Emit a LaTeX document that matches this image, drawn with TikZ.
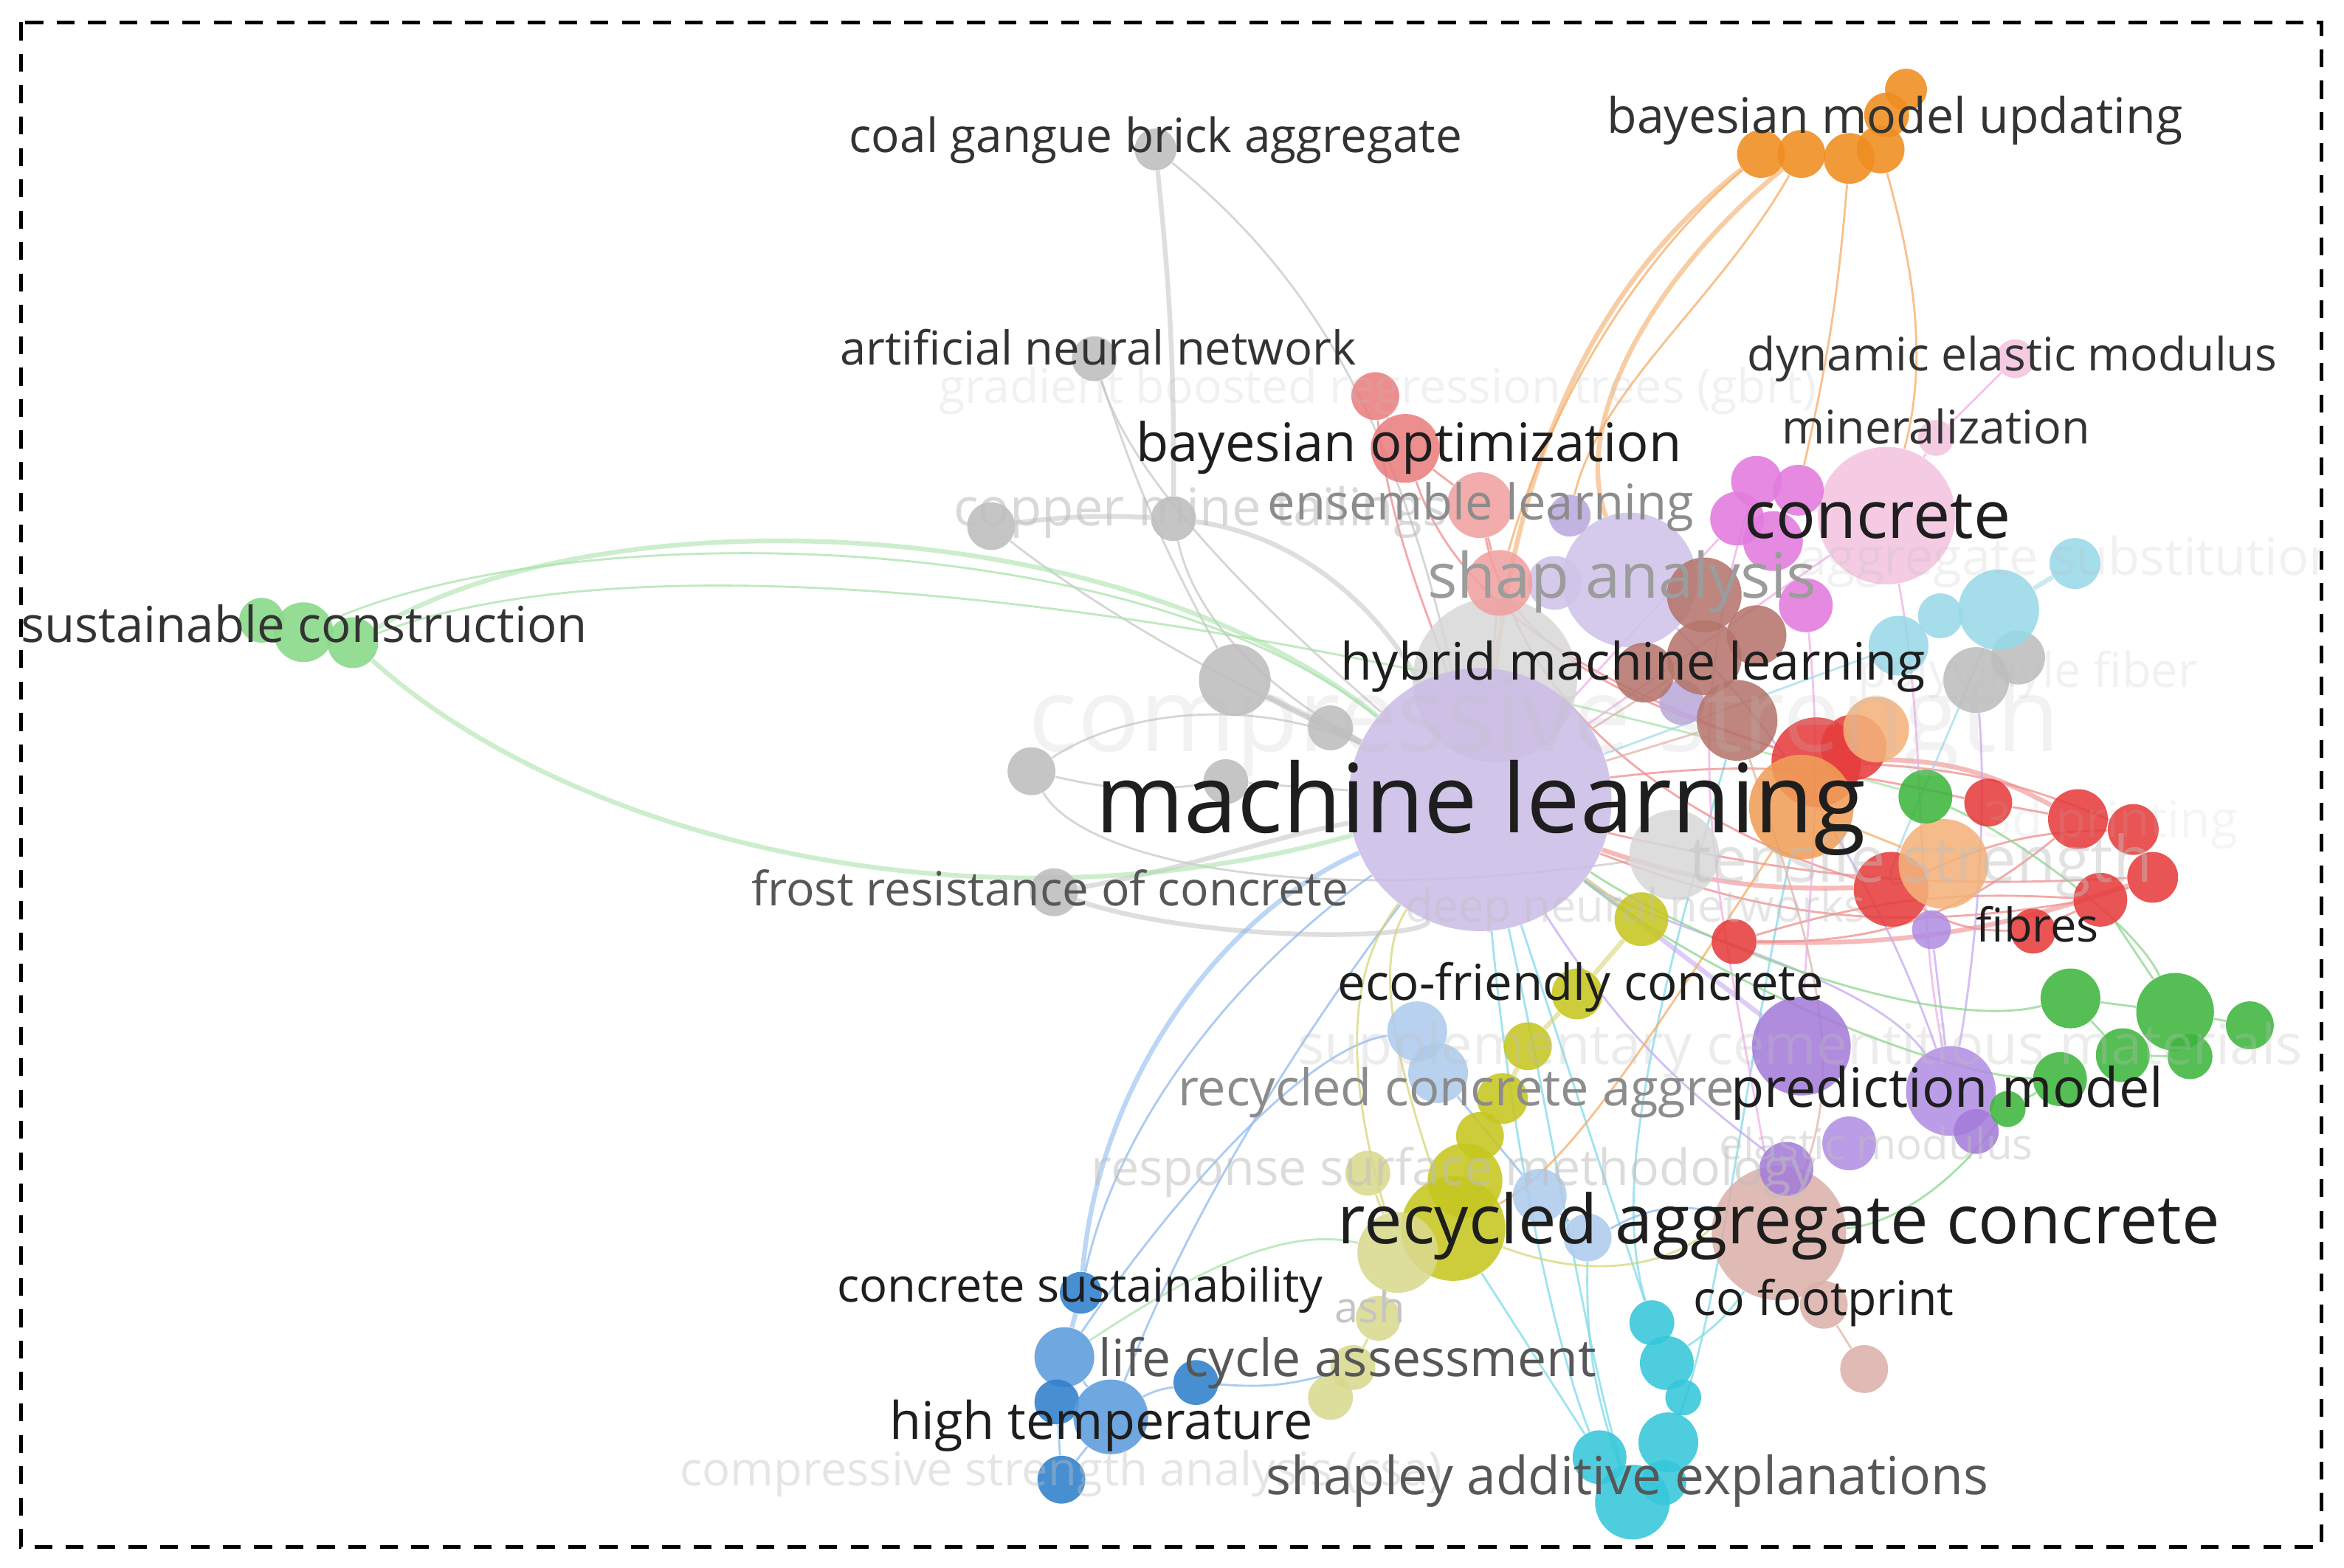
\documentclass[tikz,border=0pt]{standalone}
\usepackage{fontspec}
\setmainfont{Open Sans}
\usepackage{graphicx}
\pgfdeclarelayer{edgelayer}
\pgfdeclarelayer{labellayer}
\pgfsetlayers{edgelayer,main,labellayer}
\definecolor{cML}{HTML}{CBBDE6}
\definecolor{cShap}{HTML}{CFC3E8}
\definecolor{cLav}{HTML}{BBA8DE}
\definecolor{cPur}{HTML}{A47CD8}
\definecolor{cPur2}{HTML}{B28EE2}
\definecolor{cSal}{HTML}{EA7E7E}
\definecolor{cSal2}{HTML}{F0A0A0}
\definecolor{cOra}{HTML}{EF8C1E}
\definecolor{cMag}{HTML}{E27ADD}
\definecolor{cPink}{HTML}{F2C4DF}
\definecolor{cBrown}{HTML}{B5756C}
\definecolor{cLCy}{HTML}{98D8E8}
\definecolor{cRed}{HTML}{E63C3C}
\definecolor{cPeach}{HTML}{F4B27A}
\definecolor{cOr2}{HTML}{F09E58}
\definecolor{cGrn}{HTML}{3DB53D}
\definecolor{cLGrn}{HTML}{86D886}
\definecolor{cOli}{HTML}{C6C620}
\definecolor{cLOli}{HTML}{D8D88E}
\definecolor{cLBlu}{HTML}{AECBEC}
\definecolor{cBlu}{HTML}{2F80CC}
\definecolor{cBlu2}{HTML}{5B9BDC}
\definecolor{cCya}{HTML}{35C6DA}
\definecolor{cRosy}{HTML}{DCB0AA}
\definecolor{cGry}{HTML}{BDBDBD}
\definecolor{cLGry}{HTML}{D8D8D8}
\definecolor{eG}{HTML}{C8C8C8}
\definecolor{eO}{HTML}{F5AC66}
\definecolor{eLG}{HTML}{ABE2AB}
\definecolor{eB}{HTML}{90BAEE}
\definecolor{eC}{HTML}{80DAEA}
\definecolor{eR}{HTML}{F08C8C}
\definecolor{eP}{HTML}{EDB0E6}
\definecolor{eV}{HTML}{C6AAF0}
\definecolor{eGn}{HTML}{8CD68C}
\definecolor{eY}{HTML}{D6D678}
\definecolor{eRo}{HTML}{E0B4AC}
\definecolor{eLC}{HTML}{A4DCEA}
\definecolor{tOne}{HTML}{1E1E1E}
\definecolor{tTwo}{HTML}{333333}
\definecolor{tG}{HTML}{575757}
\definecolor{tM}{HTML}{8C8C8C}
\definecolor{tMb}{HTML}{9C9C9C}
\definecolor{tL}{HTML}{C4C4C4}
\tikzset{
  ball/.style={circle,inner sep=0pt,minimum size=#1*0.4mm,fill opacity=0.88,draw=none},
  lbl/.style={anchor=base west,inner sep=0pt,outer sep=0pt},
  faint/.style={text=black!25,text opacity=#1},
  con/.style={line width=0.8pt,draw opacity=0.75},
  conw/.style={line width=1.8pt,draw opacity=0.6},
  frame/.style={line width=1.4pt,dash pattern=on 2.4mm off 1.8mm}
}
\begin{document}
\begin{tikzpicture}[x=0.2mm,y=-0.2mm]
\useasboundingbox (0,0) rectangle (1568,1049);
% ---------------- nodes (circles) ----------------
\node[ball=55,fill=cLGry] (g10) at (1000,455) {};
\node[ball=88,fill=cML] (ml) at (990,535) {};
\node[ball=46,fill=cPink] (conc) at (1262,345) {};
\node[ball=45,fill=cRosy] (rac) at (1190,825) {};
\node[ball=45,fill=cShap] (shap) at (1090,388) {};
\node[ball=30,fill=cLGry] (gr3) at (1120,572) {};
% gray
\node[ball=14,fill=cGry] (g1) at (773,100) {};
\node[ball=15,fill=cGry] (g2) at (732,240) {};
\node[ball=16,fill=cGry] (g3) at (663,352) {};
\node[ball=15,fill=cGry] (g4) at (785,347) {};
\node[ball=24,fill=cGry] (g5) at (826,455) {};
\node[ball=15,fill=cGry] (g6) at (890,487) {};
\node[ball=16,fill=cGry] (g7) at (690,516) {};
\node[ball=15,fill=cGry] (g8) at (820,523) {};
\node[ball=16,fill=cGry] (g9) at (705,597) {};
\node[ball=22,fill=cGry] (gr1) at (1322,455) {};
\node[ball=18,fill=cGry] (gr2) at (1350,440) {};
% lavender / purple
\node[ball=14,fill=cLav] (p1) at (1050,345) {};
\node[ball=18,fill=cShap] (p2) at (1040,390) {};
\node[ball=15,fill=cLav] (p3) at (1125,470) {};
\node[ball=33,fill=cPur] (pm1) at (1205,700) {};
\node[ball=30,fill=cPur2] (pm2) at (1305,730) {};
\node[ball=15,fill=cPur] (pm3) at (1322,757) {};
\node[ball=18,fill=cPur2] (pm4) at (1237,765) {};
\node[ball=18,fill=cPur] (pm5) at (1195,782) {};
\node[ball=13,fill=cPur2] (pm6) at (1292,622) {};
% salmon
\node[ball=16,fill=cSal] (s1) at (920,265) {};
\node[ball=23,fill=cSal] (s2) at (940,300) {};
\node[ball=22,fill=cSal2] (s3) at (990,338) {};
\node[ball=22,fill=cSal2] (s4) at (1003,390) {};
% orange
\node[ball=16,fill=cOra] (o1) at (1178,103) {};
\node[ball=16,fill=cOra] (o2) at (1205,103) {};
\node[ball=17,fill=cOra] (o3) at (1237,106) {};
\node[ball=16,fill=cOra] (o4) at (1258,100) {};
\node[ball=15,fill=cOra] (o5) at (1262,77) {};
\node[ball=14,fill=cOra] (o6) at (1275,60) {};
% magenta / pink
\node[ball=17,fill=cMag] (m1) at (1175,322) {};
\node[ball=17,fill=cMag] (m2) at (1203,328) {};
\node[ball=18,fill=cMag] (m3) at (1162,347) {};
\node[ball=20,fill=cMag] (m4) at (1186,362) {};
\node[ball=18,fill=cMag] (m5) at (1208,405) {};
\node[ball=12,fill=cPink] (min) at (1295,293) {};
\node[ball=13,fill=cPink] (dem) at (1348,240) {};
% brown
\node[ball=25,fill=cBrown] (b1) at (1140,398) {};
\node[ball=20,fill=cBrown] (b2) at (1175,425) {};
\node[ball=20,fill=cBrown] (b3) at (1100,450) {};
\node[ball=25,fill=cBrown] (b4) at (1140,440) {};
\node[ball=27,fill=cBrown] (b5) at (1162,482) {};
% light cyan
\node[ball=17,fill=cLCy] (lc1) at (1388,377) {};
\node[ball=27,fill=cLCy] (lc2) at (1337,408) {};
\node[ball=15,fill=cLCy] (lc3) at (1298,412) {};
\node[ball=20,fill=cLCy] (lc4) at (1270,432) {};
% red
\node[ball=22,fill=cRed] (r10) at (1240,500) {};
\node[ball=30,fill=cRed] (r1) at (1215,510) {};
\node[ball=16,fill=cRed] (r2) at (1330,537) {};
\node[ball=20,fill=cRed] (r3) at (1390,548) {};
\node[ball=17,fill=cRed] (r4) at (1427,555) {};
\node[ball=17,fill=cRed] (r5) at (1440,587) {};
\node[ball=25,fill=cRed] (r6) at (1265,595) {};
\node[ball=18,fill=cRed] (r7) at (1405,602) {};
\node[ball=15,fill=cRed] (r8) at (1360,623) {};
\node[ball=15,fill=cRed] (r9) at (1160,630) {};
% peach / orange
\node[ball=22,fill=cPeach] (pc2) at (1255,488) {};
\node[ball=35,fill=cOr2] (pc1) at (1205,540) {};
\node[ball=30,fill=cPeach] (pc3) at (1300,578) {};
% green
\node[ball=18,fill=cGrn] (gn1) at (1288,533) {};
\node[ball=20,fill=cGrn] (gn2) at (1385,668) {};
\node[ball=26,fill=cGrn] (gn3) at (1455,677) {};
\node[ball=16,fill=cGrn] (gn4) at (1505,686) {};
\node[ball=18,fill=cGrn] (gn5) at (1420,706) {};
\node[ball=15,fill=cGrn] (gn6) at (1465,707) {};
\node[ball=18,fill=cGrn] (gn7) at (1378,722) {};
\node[ball=12,fill=cGrn] (gn8) at (1343,742) {};
% olive
\node[ball=35,fill=cOli] (ol7) at (972,822) {};
\node[ball=27,fill=cLOli] (ol8) at (935,838) {};
\node[ball=15,fill=cLOli] (ol12) at (915,785) {};
\node[ball=18,fill=cOli] (ol1) at (1098,615) {};
\node[ball=17,fill=cOli] (ol2) at (1055,665) {};
\node[ball=16,fill=cOli] (ol3) at (1022,700) {};
\node[ball=17,fill=cOli] (ol4) at (1005,735) {};
\node[ball=16,fill=cOli] (ol5) at (990,760) {};
\node[ball=25,fill=cOli] (ol6) at (980,790) {};
\node[ball=15,fill=cLOli] (ol9) at (922,882) {};
\node[ball=15,fill=cLOli] (ol10) at (905,915) {};
\node[ball=15,fill=cLOli] (ol11) at (890,935) {};
% light blue
\node[ball=20,fill=cLBlu] (lb1) at (948,690) {};
\node[ball=20,fill=cLBlu] (lb2) at (962,718) {};
\node[ball=18,fill=cLBlu] (lb3) at (1030,800) {};
\node[ball=16,fill=cLBlu] (lb4) at (1062,828) {};
% blue
\node[ball=14,fill=cBlu] (bl1) at (723,865) {};
\node[ball=20,fill=cBlu2] (bl2) at (712,908) {};
\node[ball=15,fill=cBlu] (bl3) at (707,938) {};
\node[ball=25,fill=cBlu2] (bl4) at (743,948) {};
\node[ball=15,fill=cBlu] (bl5) at (800,925) {};
\node[ball=16,fill=cBlu] (bl6) at (710,990) {};
% cyan
\node[ball=15,fill=cCya] (cy1) at (1105,885) {};
\node[ball=18,fill=cCya] (cy2) at (1115,912) {};
\node[ball=12,fill=cCya] (cy3) at (1126,935) {};
\node[ball=20,fill=cCya] (cy4) at (1116,965) {};
\node[ball=18,fill=cCya] (cy5) at (1070,975) {};
\node[ball=25,fill=cCya] (cy6) at (1092,1005) {};
\node[ball=15,fill=cCya] (cy7) at (1113,992) {};
% rosy
\node[ball=16,fill=cRosy] (rs2) at (1220,873) {};
\node[ball=16,fill=cRosy] (rs3) at (1247,916) {};
% light green
\node[ball=15,fill=cLGrn] (sc1) at (175,415) {};
\node[ball=20,fill=cLGrn] (sc2) at (203,423) {};
\node[ball=17,fill=cLGrn] (sc3) at (236,430) {};
% ---------------- edges ----------------
\begin{pgfonlayer}{edgelayer}
% orange
\draw[conw,eO] (o1) .. controls (1080,180) and (1020,280) .. (ml);
\draw[con,eO] (o1) .. controls (1100,170) and (1040,260) .. (s4);
\draw[conw,eO] (o2) .. controls (1110,180) and (1050,280) .. (shap);
\draw[con,eO] (o2) .. controls (1150,200) and (1070,260) .. (p1);
\draw[con,eO] (o3) to[bend left=4] (m2);
\draw[con,eO] (o4) .. controls (1280,180) and (1290,240) .. (conc);
% gray
\draw[conw,eG] (g1) to[bend left=3] (g4);
\draw[con,eG] (g1) .. controls (860,170) and (930,260) .. (ml);
\draw[con,eG] (g2) to[bend right=5] (g5);
\draw[con,eG] (g2) .. controls (760,330) and (860,420) .. (ml);
\draw[conw,eG] (g3) to[bend left=5] (g4);
\draw[conw,eG] (g4) .. controls (880,360) and (930,420) .. (ml);
\draw[con,eG] (g4) .. controls (800,420) and (860,470) .. (ml);
\draw[con,eG] (g3) .. controls (750,420) and (850,470) .. (ml);
\draw[con,eG] (g5) -- (g6);
\draw[con,eG] (g6) -- (ml);
\draw[conw,eG] (g5) -- (ml);
\draw[con,eG] (g7) .. controls (760,470) and (850,470) .. (ml);
\draw[con,eG] (g7) to[bend right=10] (g8);
\draw[con,eG] (g8) -- (ml);
\draw[conw,eG] (g9) .. controls (800,580) and (850,560) .. (ml);
\draw[conw,eG] (g9) .. controls (800,630) and (950,630) .. (ml);
\draw[con,eG] (g7) .. controls (720,570) and (850,610) .. (gr3);
\draw[con,eG] (gr1) -- (gr2);
% long light green
\draw[conw,eLG] (sc3) .. controls (400,330) and (750,340) .. (ml);
\draw[con,eLG] (sc2) .. controls (380,345) and (760,350) .. (ml);
\draw[con,eLG] (sc3) .. controls (420,360) and (780,390) .. (gn1);
\draw[conw,eLG] (sc3) .. controls (380,560) and (650,630) .. (ml);
% blue
\draw[conw,eB] (bl1) .. controls (735,720) and (820,610) .. (ml);
\draw[con,eB] (bl1) .. controls (750,740) and (840,640) .. (ml);
\draw[conw,eB] (bl1) -- (bl2);
\draw[con,eB] (bl4) .. controls (800,800) and (880,680) .. (ml);
\draw[con,eB] (bl2) .. controls (800,780) and (880,700) .. (lb1);
\draw[con,eB] (bl5) to[bend right=10] (ol10);
\draw[con,eB] (bl4) to[bend left=10] (bl5);
\draw[con,eB] (bl3) -- (bl6);
\draw[con,eB] (bl4) -- (bl6);
\draw[con,eB] (bl2) -- (bl4);
\draw[con,eLG] (bl2) .. controls (800,850) and (860,820) .. (ol8);
% cyan
\draw[con,eC] (cy6) .. controls (1060,900) and (1040,760) .. (ml);
\draw[con,eC] (cy5) .. controls (1040,900) and (1010,760) .. (ml);
\draw[con,eC] (cy1) -- (ml);
\draw[con,eC] (cy6) to[bend left=10] (lb4);
\draw[con,eC] (cy5) -- (ol7);
\draw[con,eC] (cy4) .. controls (1150,880) and (1170,700) .. (pc1);
\draw[con,eC] (cy2) to[bend right=10] (rac);
\draw[con,eC] (cy6) -- (cy7);
\draw[con,eC] (cy4) -- (cy7);
\draw[con,eC] (cy1) -- (cy2);
\draw[con,eC] (cy2) -- (cy3);
\draw[con,eC] (cy3) -- (cy4);
\draw[con,eC] (cy1) .. controls (1080,800) and (1100,700) .. (b5);
% red
\draw[conw,eR] (r1) to[bend left=15] (r3);
\draw[con,eR] (r1) to[bend left=10] (r4);
\draw[conw,eR] (r9) to[bend right=10] (r5);
\draw[con,eR] (r9) to[bend left=10] (r7);
\draw[con,eR] (r6) to[bend right=15] (r8);
\draw[con,eR] (ml) to[bend left=10] (r2);
\draw[conw,eR] (ml) to[bend right=10] (r6);
\draw[con,eR] (ml) to[bend right=15] (r7);
\draw[con,eR] (ml) to[bend right=8] (r5);
\draw[con,eR] (s2) .. controls (980,420) and (1100,470) .. (r1);
\draw[con,eR] (s3) .. controls (1010,450) and (1130,480) .. (r1);
\draw[con,eR] (s4) -- (ml);
\draw[con,eR] (s1) -- (s2) -- (s3) -- (s4);
\draw[con,eR] (r2) -- (r3) -- (r4) -- (r5) -- (r7) -- (r8);
\draw[con,eR] (r9) to[bend right=20] (r3);
\draw[con,eR] (r6) to[bend left=12] (r4);
\draw[con,eR] (s1) .. controls (930,360) and (960,420) .. (ml);
\draw[con,eR] (s4) .. controls (1050,500) and (1150,560) .. (r6);
% pink
\draw[con,eP] (dem) -- (min);
\draw[con,eP] (min) -- (conc);
\draw[con,eP] (conc) .. controls (1290,500) and (1280,600) .. (pm2);
\draw[con,eP] (m5) .. controls (1220,520) and (1210,600) .. (pm1);
\draw[con,eP] (conc) -- (ml);
\draw[con,eP] (m3) -- (ml);
\draw[con,eP] (m1) .. controls (1120,500) and (1150,600) .. (rac);
% purple
\draw[conw,eV] (pm1) -- (ml);
\draw[con,eV] (pm2) .. controls (1250,650) and (1100,620) .. (ml);
\draw[con,eV] (pm6) -- (pm2);
\draw[con,eV] (pm5) to[bend left=10] (ml);
\draw[con,eV] (gr1) .. controls (1330,550) and (1320,650) .. (pm2);
\draw[con,eV] (shap) .. controls (1200,500) and (1260,600) .. (pm2);
% green
\draw[con,eGn] (gn1) .. controls (1350,560) and (1430,620) .. (gn3);
\draw[con,eGn] (ml) .. controls (1150,640) and (1300,690) .. (gn2);
\draw[con,eGn] (ml) .. controls (1150,660) and (1300,720) .. (gn7);
\draw[con,eGn] (gn2) -- (gn3) -- (gn4);
\draw[con,eGn] (gn5) -- (gn6);
\draw[con,eGn] (gn7) -- (gn8);
\draw[con,eGn] (gn2) -- (gn5);
\draw[con,eGn] (gn8) .. controls (1300,800) and (1260,820) .. (rac);
\draw[con,eGn] (r7) -- (gn3);
% olive
\draw[conw,eY] (ol1) -- (ol2) -- (ol3) -- (ol4) -- (ol5) -- (ol6) -- (ol7);
\draw[con,eY] (ol7) .. controls (930,700) and (920,640) .. (ml);
\draw[con,eY] (ol8) .. controls (900,720) and (900,650) .. (ml);
\draw[con,eY] (ol1) -- (ml);
\draw[con,eY] (ol8) -- (ol9) -- (ol10) -- (ol11);
\draw[con,eY] (ol7) .. controls (1100,870) and (1150,820) .. (rac);
\draw[con,eY] (ol12) -- (ol8);
% rosy / brown
\draw[con,eRo] (rac) -- (rs2) -- (rs3);
\draw[con,eRo] (rac) .. controls (1240,700) and (1200,600) .. (b5);
\draw[con,eRo] (b5) -- (ml);
\draw[con,eRo] (b4) -- (ml);
% light cyan
\draw[conw,eLC] (lc1) -- (lc2);
\draw[con,eLC] (lc2) -- (lc3) -- (lc4);
\draw[con,eLC] (lc4) -- (ml);
\draw[con,eLC] (lc2) .. controls (1280,550) and (1250,600) .. (pc3);
% light blue
\draw[con,eB] (lb1) -- (lb2);
\draw[con,eB] (lb2) -- (lb3) -- (lb4);
\draw[con,eB] (lb4) to[bend left=20] (rac);
% peach
\draw[con,eO] (pc1) -- (pc3);
\draw[con,eO] (pc2) -- (pc1);
\draw[con,eO] (pc1) .. controls (1100,700) and (1050,780) .. (ol7);
\end{pgfonlayer}
% ---------------- labels ----------------
\begin{pgfonlayer}{labellayer}
\clip (14,15) rectangle (1553,1035);
% faint labels
\node[lbl,faint=0.22] (tgbrt) at (628,270) {\resizebox{117.4mm}{!}{gradient boosted regression trees (gbrt)}};
\node[lbl,faint=0.22] (tagg) at (1203,385) {\resizebox{72.6mm}{!}{aggregate substitution}};
\node[lbl,faint=0.22] (tpoly) at (1243,460) {\resizebox{45.4mm}{!}{polyvinyle fiber}};
\node[lbl,faint=0.2] (tcomp) at (688,503) {\resizebox{138mm}{!}{compressive strength}};
\node[lbl,faint=0.15] (tprint) at (1327,560) {\resizebox{34mm}{!}{3d printing}};
\node[lbl,faint=0.45] (ttens) at (1130,590) {\resizebox{62mm}{!}{tensile strength}};
\node[lbl,faint=0.4] (tdeep) at (940,617) {\resizebox{61.6mm}{!}{deep neural networks}};
\node[lbl,faint=0.3] (tsupp) at (868,712) {\resizebox{134.4mm}{!}{supplementary cementitious materials}};
\node[lbl,faint=0.45] (telas) at (1150,776) {\resizebox{42mm}{!}{elastic modulus}};
\node[lbl,faint=0.55] (tresp) at (730,793) {\resizebox{97mm}{!}{response surface methodology}};
\node[lbl,faint=0.4] (tcsa) at (455,994) {\resizebox{102mm}{!}{compressive strength analysis (csa)}};
\node[lbl,faint=0.6] (tcopper) at (638,352) {\resizebox{66mm}{!}{copper mine tailings}};
\node[lbl,text=tL] (tash) at (893,885) {\resizebox{9.4mm}{!}{ash}};
\node[lbl,text=tMb] (tshap) at (955,400) {\resizebox{52mm}{!}{shap analysis}};
\node[lbl,text=tM] (tens) at (848,348) {\resizebox{57mm}{!}{ensemble learning}};
\node[lbl,text=tM] (trca) at (788,740) {\resizebox{74.4mm}{!}{recycled concrete aggre}};
% gray labels
\node[lbl,text=tG] (tfrost) at (503,606) {\resizebox{79.8mm}{!}{frost resistance of concrete}};
\node[lbl,text=tG] (tlca) at (735,921) {\resizebox{66.6mm}{!}{life cycle assessment}};
\node[lbl,text=tG] (tshapley) at (847,1000) {\resizebox{96.6mm}{!}{shapley additive explanations}};
% dark labels
\node[lbl,text=tTwo] (tcoal) at (568,102) {\resizebox{82mm}{!}{coal gangue brick aggregate}};
\node[lbl,text=tTwo] (tbmu) at (1075,89) {\resizebox{77mm}{!}{bayesian model updating}};
\node[lbl,text=tTwo] (tann) at (562,244) {\resizebox{69mm}{!}{artificial neural network}};
\node[lbl,text=tTwo] (tdem) at (1169,248) {\resizebox{70.8mm}{!}{dynamic elastic modulus}};
\node[lbl,text=tTwo] (tmin) at (1192,297) {\resizebox{41.2mm}{!}{mineralization}};
\node[lbl,text=tTwo] (tsus) at (14,430) {\resizebox{75.8mm}{!}{sustainable construction}};
\node[lbl,text=tOne] (tbo) at (760,309) {\resizebox{73mm}{!}{bayesian optimization}};
\node[lbl,text=tOne] (tconc) at (1167,360) {\resizebox{35.6mm}{!}{concrete}};
\node[lbl,text=tOne] (thml) at (897,455) {\resizebox{78.2mm}{!}{hybrid machine learning}};
\node[lbl,text=tOne] (tml) at (733,557) {\resizebox{103mm}{!}{machine learning}};
\node[lbl,text=tOne] (tfib) at (1322,630) {\resizebox{16.4mm}{!}{fibres}};
\node[lbl,text=tOne] (teco) at (895,669) {\resizebox{65mm}{!}{eco-friendly concrete}};
\node[lbl,text=tOne] (tpm) at (1158,741) {\resizebox{57.8mm}{!}{prediction model}};
\node[lbl,text=tOne] (trac) at (895,832) {\resizebox{118mm}{!}{recycled aggregate concrete}};
\node[lbl,text=tOne] (tcs) at (560,871) {\resizebox{65mm}{!}{concrete sustainability}};
\node[lbl,text=tOne] (tco) at (1133,880) {\resizebox{34.8mm}{!}{co footprint}};
\node[lbl,text=tOne] (tht) at (595,963) {\resizebox{56.6mm}{!}{high temperature}};
\end{pgfonlayer}
% frame
\draw[frame] (14,15) rectangle (1553,1035);
\end{tikzpicture}
\end{document}
